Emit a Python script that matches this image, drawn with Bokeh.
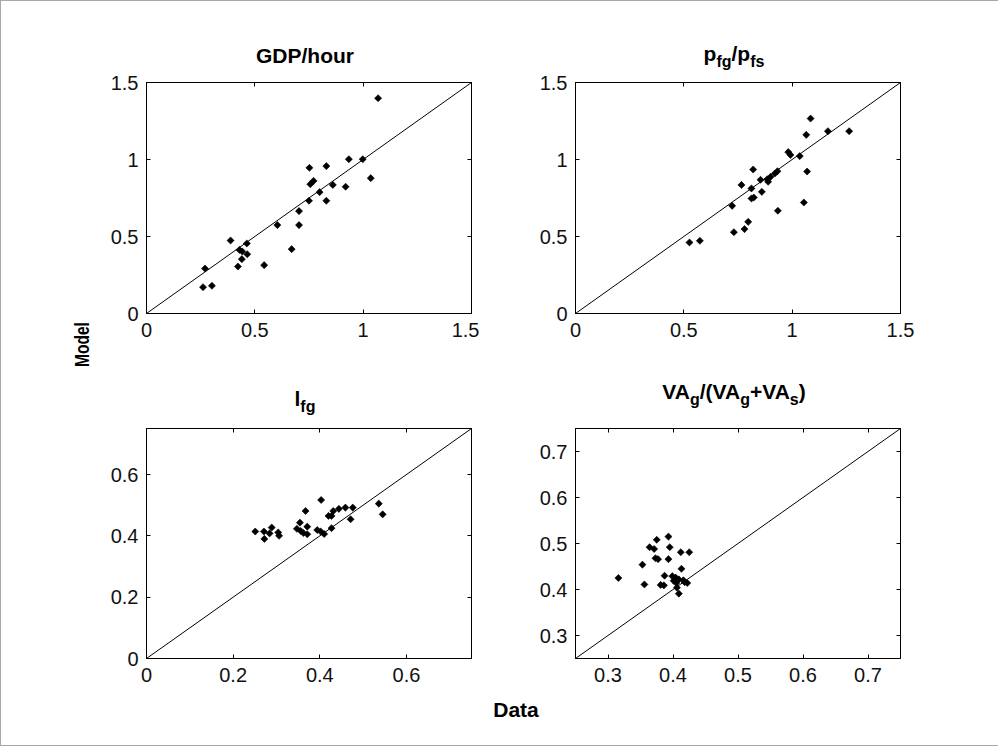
import math
from bokeh.plotting import figure
from bokeh.models import LinearAxis, FixedTicker, Range1d, Div
from bokeh.layouts import column, row
from bokeh.embed import file_html
from bokeh.resources import INLINE

# ---------------- data ----------------
gdp_data = [1.069, 0.934, 0.998, 1.035, 0.752, 0.830, 0.756, 0.771, 0.860, 0.919,
            0.799, 0.750, 0.830, 0.704, 0.604, 0.704, 0.670, 0.388, 0.463, 0.429,
            0.442, 0.465, 0.440, 0.422, 0.543, 0.270, 0.261, 0.302]
gdp_model = [1.398, 1.002, 1.002, 0.879, 0.946, 0.957, 0.840, 0.861, 0.835, 0.823,
             0.788, 0.732, 0.732, 0.665, 0.574, 0.574, 0.418, 0.474, 0.455, 0.413,
             0.403, 0.385, 0.353, 0.305, 0.314, 0.292, 0.171, 0.180]

price_data = [1.085, 1.065, 1.165, 1.263, 0.982, 0.992, 1.035, 0.820, 1.069, 0.932,
              0.920, 0.900, 0.885, 0.854, 0.889, 0.766, 0.812, 0.860, 0.812, 0.823,
              1.054, 0.723, 0.934, 0.797, 0.780, 0.731, 0.526, 0.574]
price_model = [1.266, 1.160, 1.184, 1.184, 1.048, 1.030, 1.022, 0.935, 0.922, 0.924,
               0.909, 0.887, 0.872, 0.868, 0.855, 0.835, 0.812, 0.790, 0.747, 0.753,
               0.721, 0.699, 0.667, 0.595, 0.548, 0.528, 0.461, 0.472]

lfg_data = [0.403, 0.536, 0.545, 0.367, 0.431, 0.444, 0.459, 0.476, 0.420, 0.427,
            0.471, 0.354, 0.371, 0.347, 0.356, 0.427, 0.394, 0.402, 0.410, 0.362,
            0.371, 0.251, 0.271, 0.289, 0.284, 0.272, 0.304, 0.306]
lfg_model = [0.517, 0.505, 0.470, 0.481, 0.481, 0.488, 0.492, 0.492, 0.465, 0.465,
             0.454, 0.443, 0.430, 0.423, 0.416, 0.425, 0.419, 0.414, 0.406, 0.409,
             0.405, 0.414, 0.414, 0.427, 0.408, 0.390, 0.411, 0.400]

va_data = [0.393, 0.375, 0.364, 0.371, 0.395, 0.425, 0.412, 0.373, 0.377, 0.393,
           0.353, 0.413, 0.316, 0.387, 0.399, 0.404, 0.409, 0.416, 0.418, 0.422,
           0.405, 0.381, 0.386, 0.356, 0.406, 0.409, 0.401]
va_model = [0.515, 0.508, 0.492, 0.488, 0.492, 0.481, 0.481, 0.468, 0.466, 0.466,
            0.454, 0.445, 0.425, 0.430, 0.429, 0.426, 0.422, 0.420, 0.416, 0.414,
            0.414, 0.410, 0.409, 0.411, 0.404, 0.391, 0.419]

range_top = (0, 1.5)
range_lfg = (0, 0.75)
range_va = (0.25, 0.75)

ticks_top = [0, 0.5, 1, 1.5]
tick_labels_top = ["0", "0.5", "1", "1.5"]
ticks_lfg = [0, 0.2, 0.4, 0.6]
tick_labels_lfg = ["0", "0.2", "0.4", "0.6"]
ticks_va = [0.3, 0.4, 0.5, 0.6, 0.7]
tick_labels_va = ["0.3", "0.4", "0.5", "0.6", "0.7"]

# title pieces: (text, is_subscript)
title_gdp = [("GDP/hour", False)]
title_price = [("p", False), ("fg", True), ("/p", False), ("fs", True)]
title_lfg = [("l", False), ("fg", True)]
title_va = [("VA", False), ("g", True), ("/(VA", False), ("g", True),
            ("+VA", False), ("s", True), (")", False)]

x_label = "Data"
y_label = "Model"

# ---------------- styling ----------------
FONT = "Liberation Sans"
MAIN_PX = 21
SUB_PX = 16
SUB_DROP = 6
TICK_PX = "20px"


def style_axis(ax):
    ax.axis_line_color = "black"
    ax.axis_line_width = 1
    ax.major_tick_in = 4
    ax.major_tick_out = 0
    ax.major_tick_line_color = "black"
    ax.minor_tick_line_color = None
    ax.major_label_text_font = FONT
    ax.major_label_text_font_size = TICK_PX
    ax.major_label_text_color = "#111111"


def make_panel(xs, ys, rng, ticks, tick_labels, width, height, mbl, mbr, mbt, mbb):
    lo, hi = rng
    p = figure(width=width, height=height, x_range=Range1d(lo, hi),
               y_range=Range1d(lo, hi), output_backend="svg",
               toolbar_location=None, tools="",
               min_border_left=mbl, min_border_right=mbr,
               min_border_top=mbt, min_border_bottom=mbb)
    p.grid.visible = False
    p.outline_line_color = "black"
    p.outline_line_alpha = 1.0
    p.background_fill_color = "white"
    p.border_fill_color = "white"

    overrides = {t: l for t, l in zip(ticks, tick_labels)}
    for ax in list(p.xaxis) + list(p.yaxis):
        ax.ticker = FixedTicker(ticks=ticks)
        ax.major_label_overrides = overrides
        style_axis(ax)
    p.xaxis.major_label_standoff = 9
    p.yaxis.major_label_standoff = 8

    # box ticks on the right and top (minor-only ticker -> no labels)
    for side in ("right", "above"):
        ax = LinearAxis(ticker=FixedTicker(ticks=[], minor_ticks=ticks),
                        axis_line_color="black", major_tick_line_color=None,
                        minor_tick_line_color="black", minor_tick_in=4,
                        minor_tick_out=0, major_label_standoff=0,
                        axis_label_standoff=0)
        p.add_layout(ax, side)

    # 45-degree reference line
    p.line([lo, hi], [lo, hi], line_color="black", line_width=1)
    p.scatter(xs, ys, marker="square", angle=math.pi / 4, size=5.0,
              fill_color="black", line_color="black", line_width=0.6)
    return p


def title_html(segs):
    out = []
    for t, sub in segs:
        if sub:
            out.append(f'<span style="font-size:{SUB_PX}px;position:relative;'
                       f'top:{SUB_DROP}px">{t}</span>')
        else:
            out.append(t)
    return "".join(out)


def placed(html, left, baseline, px=MAIN_PX, center=True):
    top = baseline - 0.85 * px
    tr = "transform:translateX(-50%);" if center else ""
    return (f'<div style="position:absolute;left:{left}px;top:{top:.1f}px;{tr}'
            f"white-space:nowrap;font-family:'{FONT}';font-weight:bold;"
            f'font-size:{px}px;line-height:{px}px;color:black">{html}</div>')


def strip(inner, w, h):
    return Div(text=f'<div style="position:relative;width:{w}px;height:{h}px">'
                    f'{inner}</div>', width=w, height=h, margin=(0, 0, 0, 0))


# geometry (inner area 996 x 744 inside a 1px frame)
LEFT_W = 99
COL_W = 898
top_div = strip(placed(title_html(title_gdp), 205, 62) +
                placed(title_html(title_price), 634, 60), COL_W, 69)
mid_div = strip(placed(title_html(title_lfg), 205, 46) +
                placed(title_html(title_va), 634, 39), COL_W, 56)
data_div = strip(placed(x_label, 416, 17), COL_W, 45)

model_top = 366
model_html = (f'<div style="position:absolute;left:{88 - 0.85 * MAIN_PX:.1f}px;'
              f'top:{model_top}px;transform-origin:0 0;'
              f'transform:rotate(-90deg) scaleX(0.74);'
              f"white-space:nowrap;font-family:'{FONT}';font-weight:bold;"
              f'font-size:{MAIN_PX}px;line-height:{MAIN_PX}px;color:black">'
              f'{y_label}</div>')
model_div = strip(model_html, LEFT_W, 744)

p1 = make_panel(gdp_data, gdp_model, range_top, ticks_top, tick_labels_top,
                379, 290, 46, 8, 12, 47)
p2 = make_panel(price_data, price_model, range_top, ticks_top, tick_labels_top,
                519, 290, 96, 98, 12, 47)
p3 = make_panel(lfg_data, lfg_model, range_lfg, ticks_lfg, tick_labels_lfg,
                379, 284, 46, 8, 12, 42)
p4 = make_panel(va_data, va_model, range_va, ticks_va, tick_labels_va,
                519, 284, 96, 98, 12, 42)

layout = row(model_div,
             column(top_div, row(p1, p2), mid_div, row(p3, p4), data_div),
             styles={"border": "1px solid #a8a8a8", "background": "white"})

open("out.html", "w").write(file_html(layout, INLINE))
